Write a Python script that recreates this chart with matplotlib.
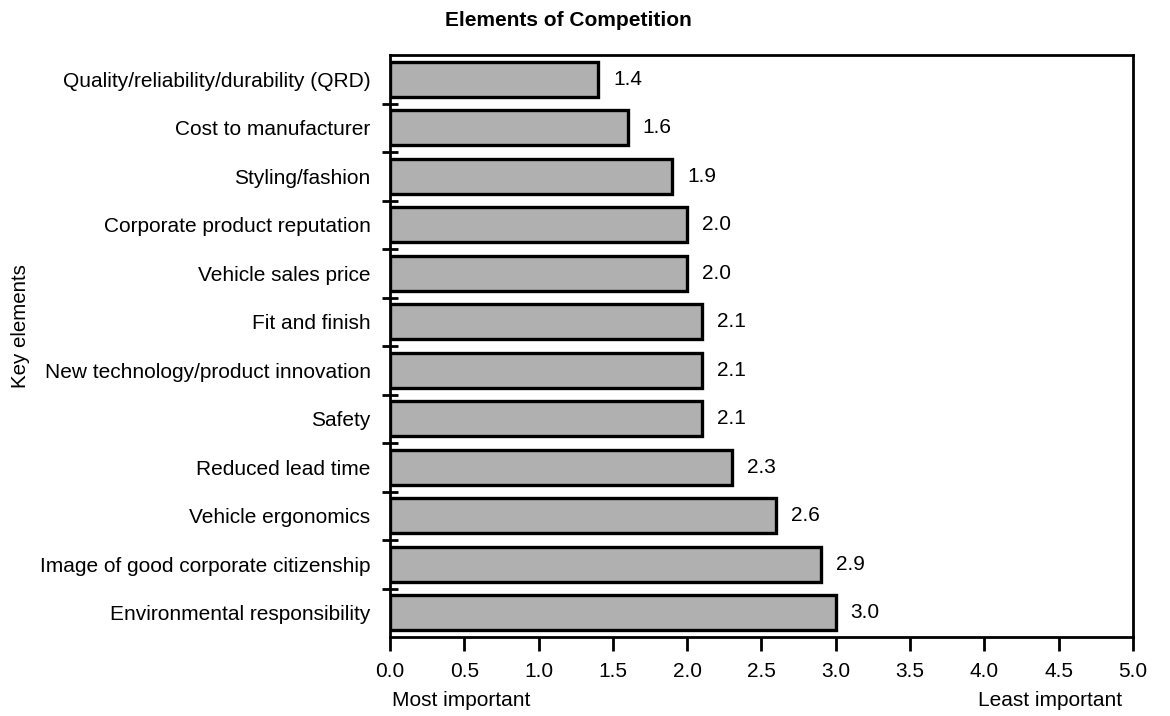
import matplotlib
matplotlib.use("Agg")
import matplotlib.pyplot as plt
import numpy as np

plt.rcParams['font.family'] = ['Liberation Sans', 'DejaVu Sans']

categories = [
    "Quality/reliability/durability (QRD)",
    "Cost to manufacturer",
    "Styling/fashion",
    "Corporate product reputation",
    "Vehicle sales price",
    "Fit and finish",
    "New technology/product innovation",
    "Safety",
    "Reduced lead time",
    "Vehicle ergonomics",
    "Image of good corporate citizenship",
    "Environmental responsibility",
]
values = [1.4, 1.6, 1.9, 2.0, 2.0, 2.1, 2.1, 2.1, 2.3, 2.6, 2.9, 3.0]
value_labels = ["1.4", "1.6", "1.9", "2.0", "2.0", "2.1", "2.1", "2.1", "2.3", "2.6", "2.9", "3.0"]
xticks = [0.0, 0.5, 1.0, 1.5, 2.0, 2.5, 3.0, 3.5, 4.0, 4.5, 5.0]

fs = 15

fig = plt.figure(figsize=(11.7, 7.16), dpi=100)
ax = fig.add_axes([390/1170, 1 - 637/716, (1133-390)/1170, (637-55)/716])

n = len(categories)
y = np.arange(n)
ax.barh(y, values, height=0.72, color='#b0b0b0', edgecolor='black', linewidth=2.4)
for yi, v, t in zip(y, values, value_labels):
    ax.text(v + 0.1, yi, t, va='center', ha='left', fontsize=fs)

ax.set_xlim(0, 5)
ax.set_ylim(n - 0.5, -0.5)
ax.set_yticks(y)
ax.set_yticklabels(categories, fontsize=fs)
ax.tick_params(axis='y', which='major', length=0, pad=14)
ax.set_yticks(np.arange(0.5, n - 1, 1.0), minor=True)
ax.tick_params(axis='y', which='minor', direction='inout', length=12, width=2)
ax.set_xticks(xticks)
ax.set_xticklabels([f"{x:.1f}" for x in xticks], fontsize=fs)
ax.tick_params(axis='x', direction='out', length=10, width=2, pad=8)
for s in ax.spines.values():
    s.set_linewidth(2)

fig.text(568/1170, 1 - 20/716, "Elements of Competition", ha='center', va='center',
         fontsize=15, fontweight='bold')
fig.text(20/1170, 1 - 326/716, "Key elements", rotation=90, ha='center', va='center',
         fontsize=14.8)
fig.text(392/1170, 1 - 701/716, "Most important", ha='left', va='center', fontsize=fs)
fig.text(1122/1170, 1 - 701/716, "Least important", ha='right', va='center', fontsize=fs)

fig.savefig("out.png", dpi=100)
